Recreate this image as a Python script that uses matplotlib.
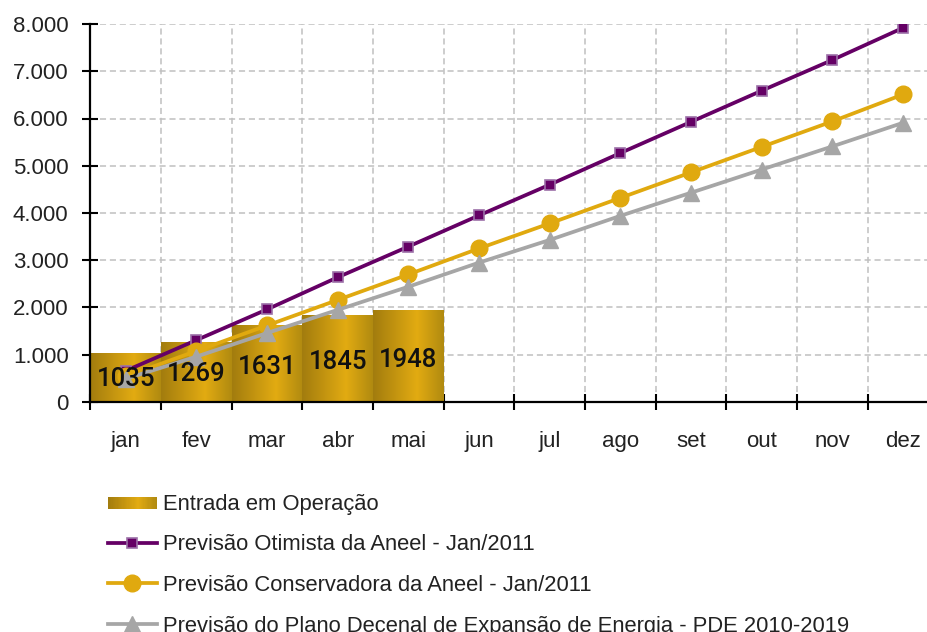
import numpy as np
import matplotlib
matplotlib.use("Agg")
import matplotlib.pyplot as plt
from matplotlib.colors import LinearSegmentedColormap
from matplotlib.legend_handler import HandlerBase
from matplotlib.patches import Rectangle

plt.rcParams['font.family'] = ['Liberation Sans', 'DejaVu Sans']

months = ['jan', 'fev', 'mar', 'abr', 'mai', 'jun', 'jul', 'ago', 'set', 'out', 'nov', 'dez']
entrada = [1035, 1269, 1631, 1845, 1948]
otimista = [660, 1310, 1960, 2640, 3290, 3950, 4600, 5270, 5930, 6590, 7240, 7920]
conservadora = [540, 1080, 1620, 2160, 2700, 3250, 3780, 4320, 4860, 5400, 5940, 6510]
pde = [490, 960, 1460, 1950, 2440, 2950, 3430, 3940, 4430, 4920, 5410, 5910]

labels = ['Entrada em Operação',
          'Previsão Otimista da Aneel - Jan/2011',
          'Previsão Conservadora da Aneel - Jan/2011',
          'Previsão do Plano Decenal de Expansão de Energia - PDE 2010-2019']

gold = LinearSegmentedColormap.from_list(
    'gold', [(0, '#A27C0E'), (0.62, '#E2AB12'), (1, '#B08A10')])
grad = np.linspace(0, 1, 256).reshape(1, -1)

fig = plt.figure(figsize=(9.28, 6.32), dpi=100)
ax = fig.add_axes([0.0975, 0.364, 0.9138, 0.598])

x = np.arange(len(months))
bars = ax.bar(x[:len(entrada)], entrada, width=1.0, color='none', edgecolor='none', zorder=2)
for b in bars:
    x0, w, h = b.get_x(), b.get_width(), b.get_height()
    im = ax.imshow(grad, cmap=gold, extent=[x0, x0 + w, 0, h], aspect='auto', zorder=2)
    im.set_clip_path(b)

purple_kw = dict(color='#650065', lw=2.7, marker='s', ms=6.5, mfc='#650065', mec='#9C70A8', mew=1.2)
orange_kw = dict(color='#E0A90F', lw=2.7, marker='o', ms=12)
gray_kw = dict(color='#A6A6A6', lw=2.7, marker='^', ms=11.5)

ax.plot(x, otimista, zorder=4, **purple_kw)
ax.plot(x, conservadora, zorder=4, **orange_kw)
ax.plot(x, pde, zorder=4, **gray_kw)

for i, v in enumerate(entrada):
    ax.text(i, v * 0.46, str(v), ha='center', va='center', fontsize=18.5,
            family=['Roboto', 'DejaVu Sans'], fontweight='medium', color='#111111', zorder=5)

ax.set_xlim(-0.5, 11.5)
ax.set_ylim(0, 8000)
ax.set_yticks(range(0, 8001, 1000))
ax.set_yticklabels([f'{v:,}'.replace(',', '.') for v in range(0, 8001, 1000)])
ax.set_xticks(np.arange(-0.5, 12, 1))
ax.set_xticklabels([])
ax.set_xticks(x, minor=True)
ax.set_xticklabels(months, minor=True)

ax.tick_params(axis='y', direction='inout', length=11.5, width=1.5, labelsize=16, pad=10,
               labelcolor='#222222')
ax.tick_params(axis='x', which='major', direction='inout', length=11, width=1.5)
ax.tick_params(axis='x', which='minor', length=0, labelsize=16, pad=21, labelcolor='#222222')

ax.grid(True, which='major', color='#C0C0C0', ls=(0, (4, 2.5)), lw=1.1, zorder=0)
ax.set_axisbelow(True)
for s in ['top', 'right']:
    ax.spines[s].set_visible(False)
for s in ['left', 'bottom']:
    ax.spines[s].set_linewidth(1.6)
    ax.spines[s].set_zorder(6)


class GradHandler(HandlerBase):
    def create_artists(self, legend, orig, xd, yd, width, height, fontsize, trans):
        n = 40
        arts = []
        for k in range(n):
            r = Rectangle((xd + width * k / n, yd + height * 0.05), width / n + 0.3, height * 0.75,
                          facecolor=gold(k / (n - 1)), edgecolor='none', transform=trans)
            arts.append(r)
        return arts


dummy = Rectangle((0, 0), 1, 1)
h1, = ax.plot([], [], **purple_kw)
h2, = ax.plot([], [], **orange_kw)
h3, = ax.plot([], [], **gray_kw)

fig.legend([dummy, h1, h2, h3], labels, handler_map={Rectangle: GradHandler()},
           loc='upper left', bbox_to_anchor=(0.116, 0.219), frameon=False,
           fontsize=15.8, handlelength=2.25, handletextpad=0.25, labelspacing=0.9,
           borderaxespad=0, borderpad=0, labelcolor='#222222')

fig.savefig('out.png', dpi=100)
